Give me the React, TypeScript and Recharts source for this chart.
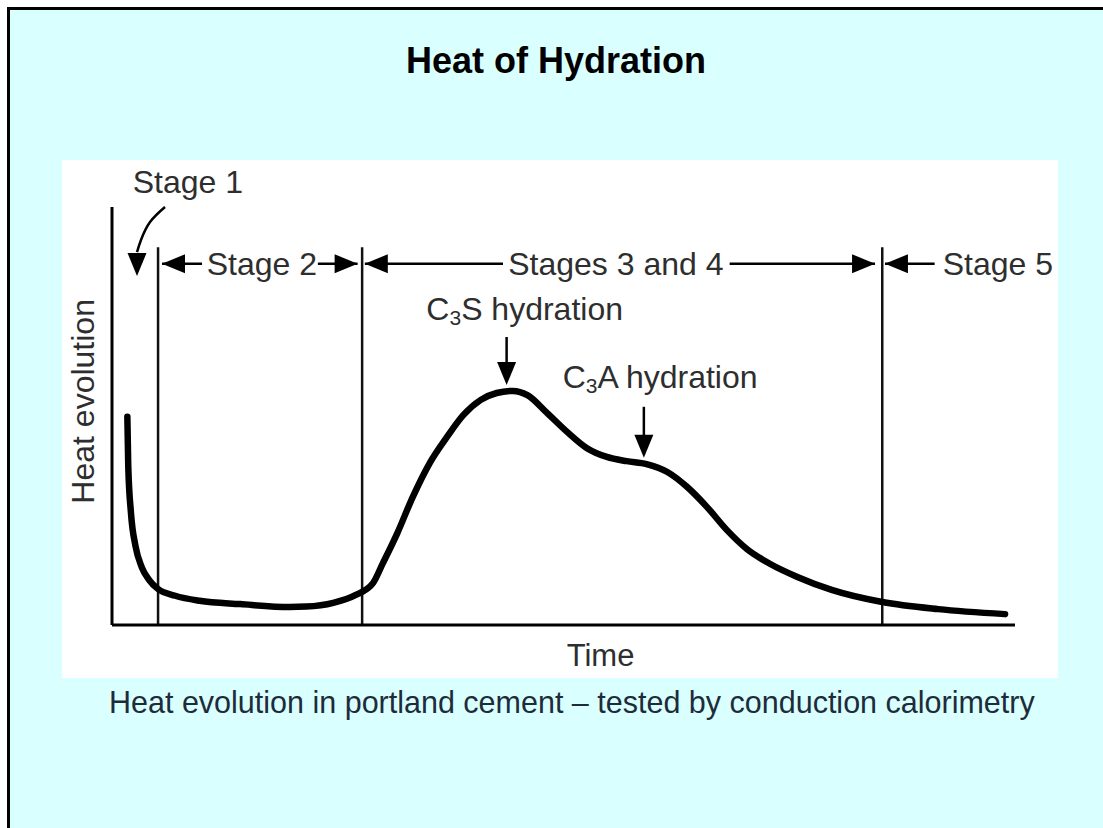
import React from "react";
import {
  LineChart,
  Line,
  XAxis,
  YAxis,
  ReferenceLine,
  ReferenceDot,
} from "recharts";

// heat evolution curve (time and heat both on a 0-100 relative scale)
const curveTime = [
  1.7, 1.8, 2.1, 2.6, 3.3, 4.1, 5.1, 7.0, 9.7, 14.2, 19.7, 21.5, 24.5, 27.0,
  28.9, 30.0, 31.6, 33.3, 35.2, 37.1, 38.9, 40.8, 42.6, 44.4, 46.0, 48.2, 50.4,
  52.6, 54.8, 57.0, 59.2, 61.5, 63.7, 65.9, 68.1, 70.3, 72.9, 75.9, 79.7, 85.3,
  91.5, 98.9,
];
const curveHeat = [
  49.8, 38.0, 26.8, 18.9, 13.8, 10.8, 8.6, 7.0, 5.8, 5.0, 4.3, 4.4, 5.3, 7.2,
  10.0, 14.8, 22.0, 30.6, 38.8, 45.0, 50.2, 53.8, 55.5, 56.0, 55.0, 50.7, 46.2,
  42.3, 40.2, 39.2, 38.5, 36.6, 33.0, 28.2, 22.7, 18.2, 14.6, 11.5, 8.4, 5.5,
  3.8, 2.6,
];

// stage boundaries
const stageBounds = [5.1, 27.7, 85.3];
const stageTop = 90.4;

// stage label row
const rowHeat = 86.4;
const stageLabels = ["Stage 2", "Stages 3 and 4", "Stage 5"];
const stageLabelTime = [16.6, 55.8, 98.1];
const shaftFrom = [5.54, 22.8, 28.0, 68.4, 85.6];
const shaftTo = [9.97, 27.2, 43.3, 84.5, 91.1];
const headTime = [5.54, 27.2, 28.0, 84.5, 85.6];
const headDir = ["left", "right", "left", "right", "left"];

// curved "Stage 1" pointer
const stage1Time = [5.87, 4.21, 3.21, 2.77];
const stage1Heat = [100.0, 96.4, 92.1, 89.2];

// peak pointers: C3S, C3A
const peakTime = [43.7, 58.9];
const peakTop = [68.9, 52.2];
const peakTip = [57.4, 40.0];
const peakLabelTime = [45.7, 60.7];
const peakLabelHeat = [75.6, 59.4];
const peakSub = ["S hydration", "A hydration"];

const curve = curveTime.map((t, i) => ({ t, h: curveHeat[i] }));
const stage1Path = stage1Time.map((t, i) => ({ t, h: stage1Heat[i] }));

const INK = "#2e2e2e";
const FONT = "'Liberation Sans', Arial, sans-serif";

const head = (dir: string) => (p: any) => {
  const { cx, cy } = p;
  const L = 23;
  const W = 9.5;
  let pts = "";
  if (dir === "left") pts = `${cx},${cy} ${cx + L},${cy - W} ${cx + L},${cy + W}`;
  if (dir === "right") pts = `${cx},${cy} ${cx - L},${cy - W} ${cx - L},${cy + W}`;
  if (dir === "down") pts = `${cx},${cy} ${cx - W},${cy - L} ${cx + W},${cy - L}`;
  return <polygon points={pts} fill="#000" />;
};

const note =
  (text: string, size = 32, rotate = false) =>
  (p: any) => (
    <text
      x={p.cx}
      y={p.cy}
      textAnchor="middle"
      dominantBaseline="central"
      fontFamily={FONT}
      fontSize={size}
      fill={INK}
      transform={rotate ? `rotate(-90 ${p.cx} ${p.cy})` : undefined}
    >
      {text}
    </text>
  );

const chemNote = (rest: string) => (p: any) => (
  <text
    x={p.cx}
    y={p.cy}
    textAnchor="middle"
    dominantBaseline="central"
    fontFamily={FONT}
    fontSize={32}
    fill={INK}
  >
    C
    <tspan fontSize={21} dy={8}>
      3
    </tspan>
    <tspan dy={-8}>{rest}</tspan>
  </text>
);

export default function App() {
  return (
    <div
      style={{
        position: "absolute",
        left: 0,
        top: 0,
        width: 1103,
        height: 828,
        background: "#fff",
        overflow: "hidden",
      }}
    >
      <div
        style={{
          position: "absolute",
          left: 7,
          top: 7,
          width: 1096,
          height: 821,
          background: "#d9ffff",
          borderTop: "3px solid #000",
          borderLeft: "3px solid #000",
          boxSizing: "border-box",
        }}
      />
      <div
        style={{
          position: "absolute",
          left: 0,
          top: 43,
          width: 1112,
          textAlign: "center",
          fontFamily: FONT,
          fontWeight: "bold",
          fontSize: 36,
          lineHeight: "36px",
          color: "#000",
        }}
      >
        Heat of Hydration
      </div>
      <div
        style={{
          position: "absolute",
          left: 62,
          top: 160,
          width: 996,
          height: 518,
          background: "#fff",
        }}
      />
      <div
        style={{
          position: "absolute",
          left: 109,
          top: 687,
          whiteSpace: "nowrap",
          fontFamily: FONT,
          fontSize: 30.5,
          lineHeight: "30px",
          color: "#1e2c3a",
        }}
      >
        Heat evolution in portland cement – tested by conduction calorimetry
      </div>

      <div style={{ position: "absolute", left: 0, top: 0 }}>
        <LineChart
          width={1103}
          height={828}
          data={curve}
          margin={{ top: 207, right: 88, bottom: 173, left: 52 }}
        >
          <XAxis
            type="number"
            dataKey="t"
            domain={[0, 100]}
            height={30}
            tick={false}
            tickLine={false}
            axisLine={{ stroke: "#000", strokeWidth: 3 }}
          />
          <YAxis
            type="number"
            domain={[0, 100]}
            width={60}
            tick={false}
            tickLine={false}
            axisLine={{ stroke: "#000", strokeWidth: 3 }}
          />

          {stageBounds.map((t, i) => (
            <ReferenceLine
              key={`b${i}`}
              segment={[
                { x: t, y: 0 },
                { x: t, y: stageTop },
              ]}
              stroke="#111"
              strokeWidth={2.5}
              ifOverflow="visible"
            />
          ))}

          {shaftFrom.map((t, i) => (
            <ReferenceLine
              key={`s${i}`}
              segment={[
                { x: t, y: rowHeat },
                { x: shaftTo[i], y: rowHeat },
              ]}
              stroke="#000"
              strokeWidth={2.5}
              ifOverflow="visible"
            />
          ))}
          {headTime.map((t, i) => (
            <ReferenceDot
              key={`h${i}`}
              x={t}
              y={rowHeat}
              r={0}
              ifOverflow="visible"
              shape={head(headDir[i])}
            />
          ))}
          {stageLabels.map((s, i) => (
            <ReferenceDot
              key={`l${i}`}
              x={stageLabelTime[i]}
              y={rowHeat}
              r={0}
              ifOverflow="visible"
              shape={note(s)}
            />
          ))}

          <ReferenceDot
            x={8.4}
            y={106.0}
            r={0}
            ifOverflow="visible"
            shape={note("Stage 1")}
          />
          <Line
            data={stage1Path}
            dataKey="h"
            type="natural"
            stroke="#000"
            strokeWidth={2.5}
            dot={false}
            isAnimationActive={false}
          />
          <ReferenceDot
            x={2.77}
            y={83.5}
            r={0}
            ifOverflow="visible"
            shape={head("down")}
          />

          {peakTime.map((t, i) => (
            <ReferenceLine
              key={`p${i}`}
              segment={[
                { x: t, y: peakTop[i] },
                { x: t, y: peakTip[i] + 3 },
              ]}
              stroke="#000"
              strokeWidth={2.5}
              ifOverflow="visible"
            />
          ))}
          {peakTime.map((t, i) => (
            <ReferenceDot
              key={`ph${i}`}
              x={t}
              y={peakTip[i]}
              r={0}
              ifOverflow="visible"
              shape={head("down")}
            />
          ))}
          {peakSub.map((s, i) => (
            <ReferenceDot
              key={`pl${i}`}
              x={peakLabelTime[i]}
              y={peakLabelHeat[i]}
              r={0}
              ifOverflow="visible"
              shape={chemNote(s)}
            />
          ))}

          <Line
            dataKey="h"
            type="monotone"
            stroke="#000"
            strokeWidth={6.5}
            strokeLinecap="round"
            dot={false}
            isAnimationActive={false}
          />

          <ReferenceDot
            x={54.1}
            y={-7.4}
            r={0}
            ifOverflow="visible"
            shape={note("Time", 31)}
          />
          <ReferenceDot
            x={-3.16}
            y={53.5}
            r={0}
            ifOverflow="visible"
            shape={note("Heat evolution", 32, true)}
          />
        </LineChart>
      </div>
    </div>
  );
}
